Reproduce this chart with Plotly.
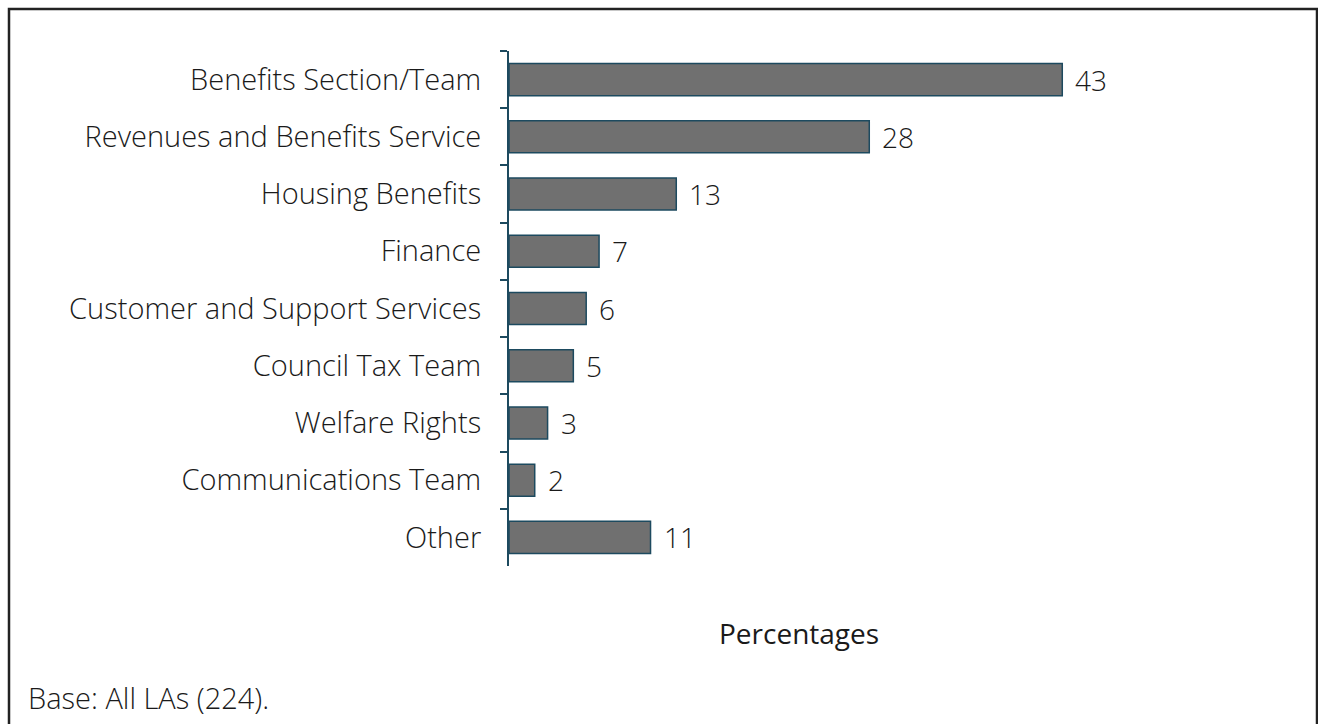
import plotly.graph_objects as go

# Where benefits-related work sits within local authorities (%)
categories = [
    "Benefits Section/Team",
    "Revenues and Benefits Service",
    "Housing Benefits",
    "Finance",
    "Customer and Support Services",
    "Council Tax Team",
    "Welfare Rights",
    "Communications Team",
    "Other",
]
percentages = [43, 28, 13, 7, 6, 5, 3, 2, 11]

axis_title = "Percentages"
base_note = "Base: All LAs (224)."

FONT = "Open Sans"
SIZE = 29
TEXT = "#1a1a1a"
EDGE = "#1d4a5f"

W, H = 1318, 724
L, R, T, B = 509, 230, 51, 158
pw, ph = W - L - R, H - T - B


def px_x(x):
    return (x - L) / pw


def px_y(y):
    return (H - B - y) / ph


fig = go.Figure(
    go.Bar(
        x=percentages,
        y=categories,
        orientation="h",
        marker=dict(color="#707070", line=dict(color=EDGE, width=1.5)),
        hoverinfo="x+y",
    )
)

# value labels just past the end of each bar
annotations = [
    dict(
        x=v, y=c, xref="x", yref="y", text=str(v), showarrow=False,
        xanchor="left", yanchor="middle", xshift=11,
        font=dict(family=FONT, size=28, color=TEXT, weight=300),
    )
    for c, v in zip(categories, percentages)
]
annotations.append(dict(
    x=0.5, y=px_y(633), xref="paper", yref="paper", text=axis_title,
    showarrow=False, xanchor="center", yanchor="middle",
    font=dict(family=FONT, size=28, color=TEXT),
))
annotations.append(dict(
    x=px_x(26), y=px_y(697), xref="paper", yref="paper", text=base_note,
    showarrow=False, xanchor="left", yanchor="middle",
    font=dict(family=FONT, size=SIZE, color=TEXT, weight=300),
))

fig.update_layout(
    width=W, height=H,
    margin=dict(l=L, r=R, t=T, b=B, autoexpand=False),
    paper_bgcolor="white", plot_bgcolor="white",
    bargap=0.44,
    showlegend=False,
    annotations=annotations,
    shapes=[dict(
        type="rect", xref="paper", yref="paper",
        x0=px_x(9), x1=px_x(1317), y0=px_y(740), y1=px_y(9),
        line=dict(color="#222222", width=2.5), fillcolor="rgba(0,0,0,0)",
        layer="below",
    )],
    xaxis=dict(
        range=[0, 45], visible=False, fixedrange=True,
    ),
    yaxis=dict(
        autorange="reversed",
        showline=True, linecolor=EDGE, linewidth=2,
        ticks="outside", ticklen=7, tickcolor=EDGE, tickwidth=2,
        tickson="boundaries",
        ticklabelstandoff=20,
        showgrid=False, zeroline=False,
        tickfont=dict(family=FONT, size=SIZE, color=TEXT, weight=300),
    ),
)

fig.write_html("out.html")
